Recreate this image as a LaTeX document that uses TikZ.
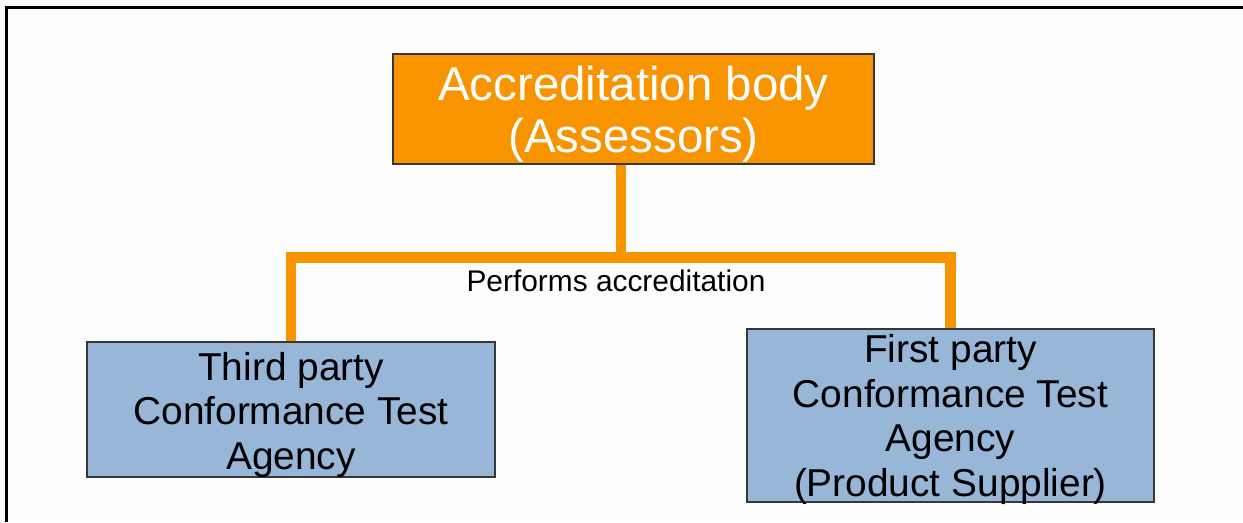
\documentclass[tikz,border=0pt]{standalone}
\usepackage{fontspec}
\setmainfont{Liberation Sans}
\usepackage{xcolor}
\definecolor{bodyorange}{RGB}{247,148,0}
\definecolor{agencyblue}{RGB}{152,182,215}
\definecolor{boxedge}{RGB}{55,55,55}
\definecolor{paper}{RGB}{253,253,253}

\begin{document}
\begin{tikzpicture}[
	box/.style = {draw=boxedge, line width=0.6pt, inner sep=0pt},
	body/.style = {box, fill=bodyorange, minimum width=4.81cm, minimum height=1.10cm},
	agency/.style = {box, fill=agencyblue, minimum width=4.08cm, minimum height=1.35cm},
	bodytext/.style = {text=white, align=center, inner sep=0pt, font=\fontsize{13.5}{14.8}\selectfont},
	agencytext/.style = {align=center, inner sep=0pt, font=\fontsize{11.05}{12.65}\selectfont},
	link/.style = {bodyorange, line width=3.1pt}]
		% 背景和边框
		\fill [paper] (0, 0) rectangle (12.43, -5.22);
		\useasboundingbox (0, 0) rectangle (12.43, -5.22);
		\draw [line width=0.85pt] (0.065, -5.22) -- (0.065, -0.075) -- (12.43, -0.075);
		% 方框
		\node [body] (acc) at (6.335, -1.09) {};
		\node [agency] (third) at (2.91, -4.095) {};
		\node [agency, minimum width=4.07cm, minimum height=1.73cm] (first) at (9.505, -4.155) {};
		% 文字
		\node [bodytext] (acctext) at ([yshift=-0.055cm] acc.center) {Accreditation body\\(Assessors)};
		\node [agencytext] (thirdtext) at ([yshift=-0.05cm] third.center) {Third party\\Conformance Test\\Agency};
		\node [agencytext] (firsttext) at ([yshift=-0.04cm] first.center)
			{First party\\Conformance Test\\Agency\\(Product Supplier)};
		% 连线
		\coordinate (hub) at (6.21, -2.575);
		\draw [link] (acc.south -| hub) -- (hub);
		\draw [link] (third.north) |- (hub) -| (first.north);
		% 批注
		\node [anchor=base, font=\fontsize{8.5}{10}\selectfont] (perf) at (6.16, -2.91) {Performs accreditation};
	\end{tikzpicture}
\end{document}
